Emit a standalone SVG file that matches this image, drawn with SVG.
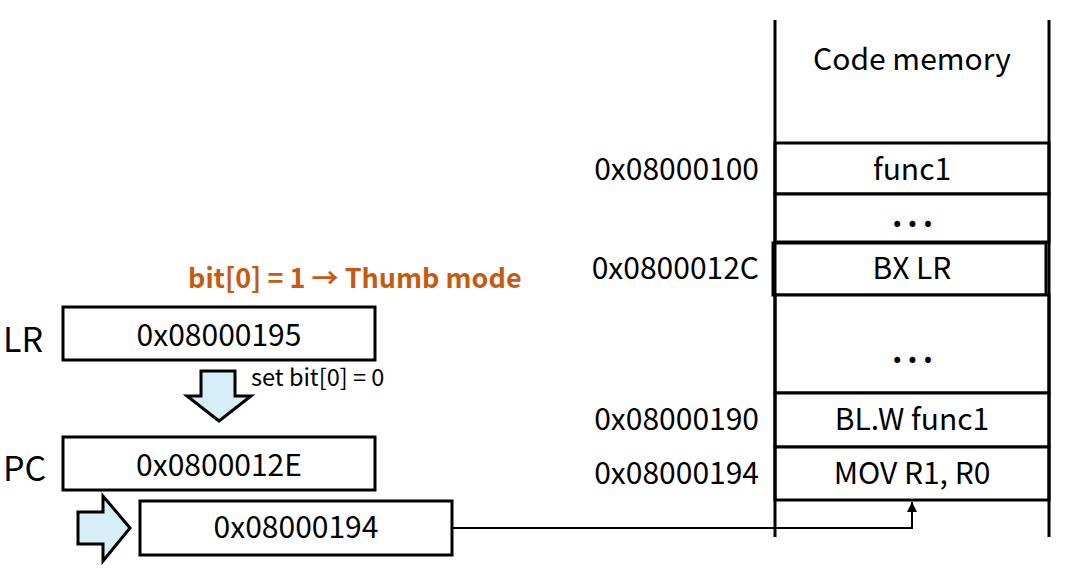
<svg xmlns="http://www.w3.org/2000/svg" width="1076" height="573" viewBox="0 0 1076 573">
<style>
text{font-family:"Noto Sans CJK KR","Noto Sans",sans-serif;fill:#000}
.box{fill:#fff;stroke:#000;stroke-width:3}
.cell{fill:#fff;stroke:#000;stroke-width:3}
.blk{fill:#d5eef8;stroke:#000;stroke-width:3;stroke-linejoin:miter}
.v{font-size:30px;text-anchor:middle}
.a{font-size:30px;text-anchor:end}
.reg{font-size:34px}
.m{font-size:30px;text-anchor:middle}
.dots{font-size:32px;text-anchor:middle;letter-spacing:5px;font-weight:bold}
.line{fill:none;stroke:#000;stroke-width:2}
</style>
<defs>
<marker id="ah" viewBox="0 0 10 10" refX="10" refY="5" markerWidth="5" markerHeight="5" markerUnits="strokeWidth" orient="auto">
<path d="M0,0 L10,5 L0,10 z" fill="#000"/>
</marker>
</defs>
<g id="memory">
<rect class="cell" x="775" y="143" width="274" height="51"/>
<rect class="cell" x="775" y="194" width="274" height="48"/>
<rect class="cell" x="773" y="243" width="273" height="52"/>
<rect class="cell" x="775" y="295" width="274" height="98"/>
<rect class="cell" x="775" y="393" width="274" height="54"/>
<rect class="cell" x="775" y="447" width="274" height="53"/>
<line x1="775" y1="20" x2="775" y2="537" stroke="#000" stroke-width="3"/>
<line x1="1049" y1="20" x2="1049" y2="537" stroke="#000" stroke-width="3"/>
<text class="m" x="912" y="70">Code memory</text>
<text class="m" x="912" y="180">func1</text>
<text class="dots" x="915" y="227">...</text>
<text class="dots" x="915" y="363">...</text>
<text class="m" x="912" y="279">BX LR</text>
<text class="m" x="912" y="430">BL.W func1</text>
<text class="m" x="912" y="484">MOV R1, R0</text>
<text class="a" x="759" y="180">0x08000100</text>
<text class="a" x="759" y="279">0x0800012C</text>
<text class="a" x="759" y="430">0x08000190</text>
<text class="a" x="759" y="484">0x08000194</text>
</g>
<g id="note">
<text x="188" y="288" style="font-size:27px;font-weight:bold;fill:#c55a11">bit[0] = 1 → Thumb mode</text>
</g>
<g id="lr">
<text class="reg" x="3" y="352">LR</text>
<rect class="box" x="63" y="307" width="312" height="53"/>
<text class="v" x="219" y="346">0x08000195</text>
</g>
<g id="down-arrow">
<path class="blk" d="M201,371 L235,371 L235,396 L251,396 L219,421 L187,396 L201,396 Z"/>
<text x="251" y="386" style="font-size:23.5px">set bit[0] = 0</text>
</g>
<g id="pc">
<text class="reg" x="3" y="481">PC</text>
<rect class="box" x="63" y="437" width="312" height="53"/>
<text class="v" x="219" y="476">0x0800012E</text>
</g>
<g id="right-arrow">
<path class="blk" d="M78,512 L103,512 L103,496 L130,528 L103,561 L103,544 L78,544 Z"/>
</g>
<g id="newpc">
<rect class="box" x="140" y="501" width="312" height="54"/>
<text class="v" x="296" y="538">0x08000194</text>
</g>
<g id="connectors">
<path class="line" d="M453,528 L912,528 L912,502" marker-end="url(#ah)"/>
</g>
</svg>
